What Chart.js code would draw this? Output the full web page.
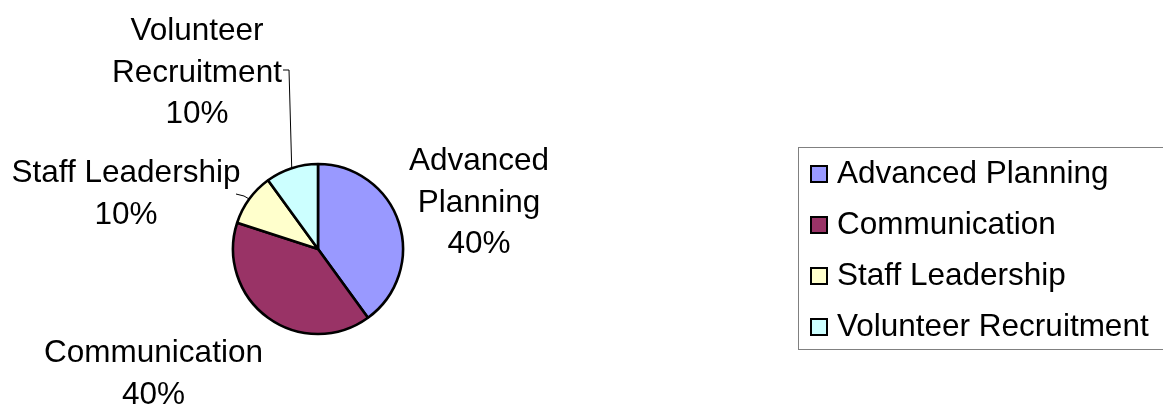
<!DOCTYPE html>
<html><head><meta charset="utf-8">
<script src="https://cdn.jsdelivr.net/npm/chart.js@4.4.0/dist/chart.umd.min.js"></script>
<style>html,body{margin:0;padding:0;background:#fff;overflow:hidden}#wrap{width:1163px;height:405px;position:relative}canvas{display:block}</style>
</head><body><div id="wrap"><canvas id="c" width="1163" height="405"></canvas></div>
<script>
// ---- data ----
const categories = ["Advanced Planning", "Communication", "Staff Leadership", "Volunteer Recruitment"];
const values = [40, 40, 10, 10];
const colors = ["#9999FF", "#993366", "#FFFFCC", "#CCFFFF"];

// ---- style / layout ----
const FONT = '31.5px "Liberation Sans", Arial, sans-serif';
const LINE_H = 41.5;
const labelLayout = [
  { x: 479, y: 170, wrap: true },
  { x: 153.5, y: 362, wrap: false },
  { x: 126, y: 182, wrap: false, leader: [[236, 194], [244, 196]] },
  { x: 197, y: 40, wrap: true, leader: [[283, 70], [289, 70]] }
];
const legendBox = { x: 798.5, y: 147.5, w: 420, h: 202, rowH: 51, swX: 810, swY: 165, sw: 18, textX: 837, baseY: 183 };

const labelsPlugin = {
  id: 'pieLabels',
  afterDatasetsDraw(chart) {
    const ctx = chart.ctx;
    const meta = chart.getDatasetMeta(0);
    const ds = chart.data.datasets[0];
    const total = ds.data.reduce((a, b) => a + b, 0);
    ctx.save();
    ctx.font = FONT;
    ctx.fillStyle = '#000';
    ctx.textAlign = 'center';
    ctx.textBaseline = 'alphabetic';
    meta.data.forEach((arc, i) => {
      const L = labelLayout[i];
      const name = chart.data.labels[i];
      const lines = L.wrap ? name.split(' ') : [name];
      lines.push(Math.round(ds.data[i] / total * 100) + '%');
      lines.forEach((t, k) => ctx.fillText(t, L.x, L.y + k * LINE_H));
      if (L.leader) {
        const p = arc.getProps(['x', 'y', 'startAngle', 'endAngle', 'outerRadius'], true);
        const mid = (p.startAngle + p.endAngle) / 2;
        const ex = p.x + p.outerRadius * Math.cos(mid);
        const ey = p.y + p.outerRadius * Math.sin(mid);
        ctx.beginPath();
        ctx.strokeStyle = '#000';
        ctx.lineWidth = 1;
        ctx.moveTo(L.leader[0][0], L.leader[0][1]);
        for (let k = 1; k < L.leader.length; k++) ctx.lineTo(L.leader[k][0], L.leader[k][1]);
        ctx.lineTo(ex, ey);
        ctx.stroke();
      }
    });
    // legend
    const B = legendBox;
    ctx.strokeStyle = '#808080';
    ctx.lineWidth = 1;
    ctx.strokeRect(B.x, B.y, B.w, B.h);
    ctx.textAlign = 'left';
    chart.data.labels.forEach((lab, i) => {
      const sy = B.swY + i * B.rowH;
      ctx.fillStyle = ds.backgroundColor[i];
      ctx.fillRect(B.swX, sy, B.sw, B.sw);
      ctx.strokeStyle = '#000';
      ctx.lineWidth = 2;
      ctx.strokeRect(B.swX + 1, sy + 1, B.sw - 2, B.sw - 2);
      ctx.fillStyle = '#000';
      ctx.fillText(lab, B.textX, B.baseY + i * B.rowH);
    });
    ctx.restore();
  }
};

new Chart(document.getElementById('c'), {
  type: 'pie',
  data: {
    labels: categories,
    datasets: [{ data: values, backgroundColor: colors, borderColor: '#000', borderWidth: 2.6 }]
  },
  options: {
    responsive: false,
    animation: false,
    devicePixelRatio: 1,
    radius: 85,
    layout: { padding: { left: 218, right: 745, top: 149, bottom: 56 } },
    plugins: { legend: { display: false }, tooltip: { enabled: false } }
  },
  plugins: [labelsPlugin]
});
</script>
</body></html>
